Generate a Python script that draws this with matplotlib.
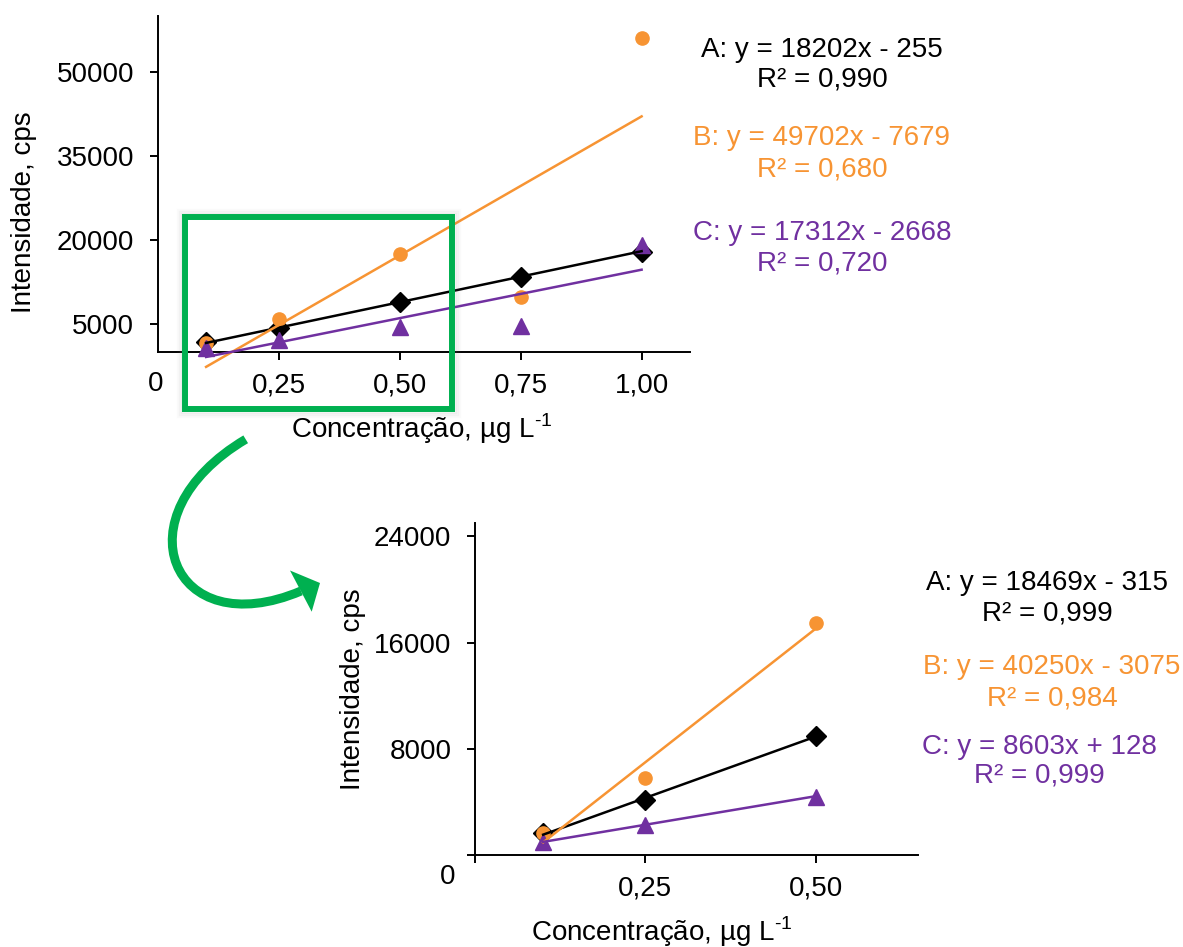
import matplotlib
matplotlib.use("Agg")
import matplotlib.pyplot as plt
import numpy as np
from matplotlib.patches import Rectangle, PathPatch, Polygon
from matplotlib.path import Path

plt.rcParams["font.family"] = ["Liberation Sans", "DejaVu Sans"]
plt.rcParams["mathtext.fontset"] = "custom"
plt.rcParams["mathtext.rm"] = "Liberation Sans"

# ---- data ----
conc_top = [0.10, 0.25, 0.50, 0.75, 1.00]
a_top = [1790, 4180, 8930, 13390, 17860]
b_top = [1500, 5840, 17450, 9820, 55960]
c_top = [600, 2090, 4460, 4590, 19050]

conc_zoom = [0.10, 0.25, 0.50]
a_zoom = [1625, 4175, 8950]
b_zoom = [1675, 5825, 17500]
c_zoom = [1000, 2250, 4375]

# trendline coefficients (slope, intercept) and R2 text
fit_top = {"A": (18202, -255), "B": (49702, -7679), "C": (17312, -2668)}
r2_top = {"A": "0,990", "B": "0,680", "C": "0,720"}
fit_zoom = {"A": (18469, -315), "B": (40250, -3075), "C": (8603, 128)}
r2_zoom = {"A": "0,999", "B": "0,984", "C": "0,999"}

top_xticks = [0.25, 0.50, 0.75, 1.00]
top_xlabels = ["0,25", "0,50", "0,75", "1,00"]
top_yticks = [5000, 20000, 35000, 50000]
zoom_xticks = [0, 0.25, 0.50]
zoom_xlabels = ["", "0,25", "0,50"]
zoom_yticks = [0, 8000, 16000, 24000]
zoom_ylabels = ["", "8000", "16000", "24000"]

BLACK = "black"
ORANGE = "#F79433"
PURPLE = "#7030A0"
GREEN = "#00B050"
colors = {"A": BLACK, "B": ORANGE, "C": PURPLE}
markers = {"A": "D", "B": "o", "C": "^"}
msizes = {"A": 10, "B": 9.5, "C": 11}

W, H = 1183, 947
FS = 20
XLABEL = "Concentração, µg L$^{\\text{-1}}$"


def fx(x):
    return x / W


def fy(y):
    return 1 - y / H


def style_axes(ax):
    ax.spines[["top", "right"]].set_visible(False)
    for s in ["left", "bottom"]:
        ax.spines[s].set_linewidth(1.4)
    ax.tick_params(direction="out", length=6, width=1.4, labelsize=FS)
    ax.tick_params(axis="y", pad=11)
    ax.tick_params(axis="x", pad=9)


def draw_series(ax, x, ys, fits, xmax):
    for key, y in zip(["A", "B", "C"], ys):
        ax.plot(x, y, linestyle="none", marker=markers[key], ms=msizes[key],
                color=colors[key], zorder=3, clip_on=False)
    xs = np.array([x[0], xmax])
    for key in ["A", "B", "C"]:
        m, b = fits[key]
        ax.plot(xs, m * xs + b, color=colors[key], lw=1.8, zorder=4,
                clip_on=False)


fig = plt.figure(figsize=(W / 100, H / 100), dpi=100)

# ---- top chart ----
ax1 = fig.add_axes([fx(157.7), fy(351.7), (690 - 157.7) / W, (351.7 - 15.7) / H])
draw_series(ax1, conc_top, [a_top, b_top, c_top], fit_top, 1.0)
ax1.set_xlim(0, 1.1)
ax1.set_ylim(0, 60000)
ax1.set_xticks(top_xticks, top_xlabels)
ax1.set_yticks(top_yticks, [str(v) for v in top_yticks])
style_axes(ax1)
ax1.set_ylabel("Intensidade, cps", fontsize=FS, va="center")
ax1.yaxis.set_label_coords(-0.2512, 0.416)
ax1.set_xlabel(XLABEL, fontsize=FS, va="center")
ax1.xaxis.set_label_coords(0.4965, -0.230)
fig.text(fx(156), fy(384), "0", fontsize=FS, ha="center", va="center")

# ---- zoomed chart ----
ax2 = fig.add_axes([fx(475), fy(855), 443 / W, 332 / H])
draw_series(ax2, conc_zoom, [a_zoom, b_zoom, c_zoom], fit_zoom, 0.5)
ax2.set_xlim(0, 0.65)
ax2.set_ylim(0, 25000)
ax2.set_xticks(zoom_xticks, zoom_xlabels)
ax2.set_yticks(zoom_yticks, zoom_ylabels)
style_axes(ax2)
ax2.set_ylabel("Intensidade, cps", fontsize=FS, va="center")
ax2.yaxis.set_label_coords(-0.2754, 0.5)
ax2.set_xlabel(XLABEL, fontsize=FS, va="center")
ax2.xaxis.set_label_coords(0.422, -0.232)
fig.text(fx(448), fy(877), "0", fontsize=FS, ha="center", va="center")

# ---- equations ----
top_pos = {"A": (822, 50, 80), "B": (822, 138, 170), "C": (822, 233, 263)}
zoom_pos = {"A": (1047, 583, 614), "B": (1052, 667, 698), "C": (1039, 747, 775)}
for fits, r2s, pos in [(fit_top, r2_top, top_pos), (fit_zoom, r2_zoom, zoom_pos)]:
    for key in ["A", "B", "C"]:
        m, b = fits[key]
        sign = "-" if b < 0 else "+"
        line1 = f"{key}: y = {m}x {sign} {abs(b)}"
        line2 = f"R² = {r2s[key]}"
        x, y1, y2 = pos[key]
        fig.text(fx(x), fy(y1), line1, fontsize=20, color=colors[key],
                 ha="center", va="center")
        fig.text(fx(x), fy(y2), line2, fontsize=20, color=colors[key],
                 ha="center", va="center")

# ---- green highlight box with soft shadow ----
x0, y0, x1, y1 = 185.3, 217, 451.5, 409
for grow, a in [(7, 0.04), (5, 0.06), (3, 0.08)]:
    fig.add_artist(Rectangle((fx(x0 - grow), fy(y1 + grow)),
                             (x1 - x0 + 2 * grow) / W, (y1 - y0 + 2 * grow) / H,
                             transform=fig.transFigure, fill=False,
                             ec="gray", lw=2.5, alpha=a, zorder=9))
fig.add_artist(Rectangle((fx(x0), fy(y1)), (x1 - x0) / W, (y1 - y0) / H,
                         transform=fig.transFigure, fill=False, ec=GREEN,
                         lw=4.3, joinstyle="miter", zorder=10))

# ---- curved arrow: body + head ----
body = [(245.7, 439.3), (116.7, 515.8), (172, 645.6), (301, 591)]
body_path = Path([(fx(x), fy(y)) for x, y in body],
                 [Path.MOVETO, Path.CURVE4, Path.CURVE4, Path.CURVE4])
fig.add_artist(PathPatch(body_path, transform=fig.transFigure, fill=False,
                         ec=GREEN, lw=6.5, capstyle="butt", zorder=10))
head = [(290, 570.5), (320, 583), (311.7, 611.7)]
fig.add_artist(Polygon([(fx(x), fy(y)) for x, y in head], closed=True,
                       transform=fig.transFigure, fc=GREEN, ec="none",
                       zorder=10))

fig.savefig("out.png", dpi=100)
